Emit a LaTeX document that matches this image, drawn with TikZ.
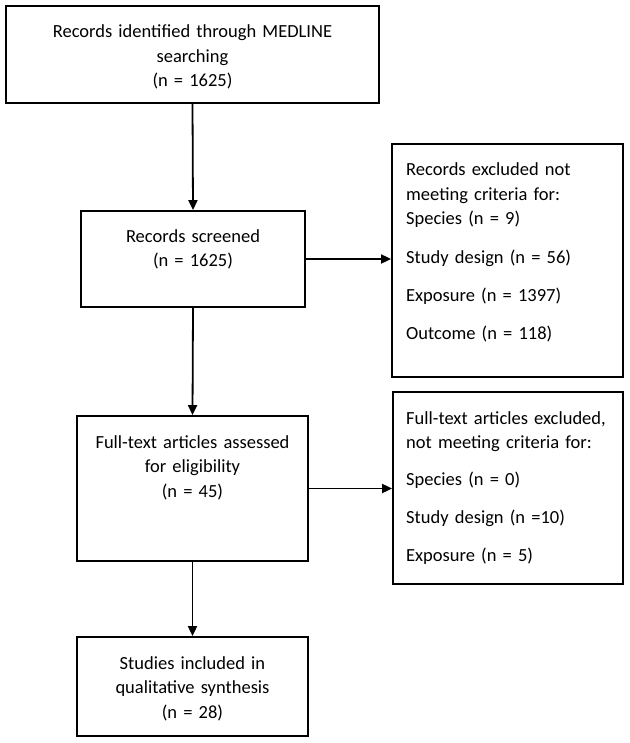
\documentclass[tikz,border=0pt]{standalone}
\usepackage{fontspec}
\setmainfont{Carlito}
\usetikzlibrary{arrows.meta}
\begin{document}
\begin{tikzpicture}[x=1pt,y=1pt,
  box/.style={draw=black,line width=1.8pt,inner sep=0pt,rectangle},
  txt/.style={inner sep=0pt,font=\fontsize{18.5}{24.5}\selectfont},
  ctxt/.style={txt,anchor=base,align=center,text width=#1},
  ltxt/.style={txt,anchor=base west,align=left,text width=#1},
  arr/.style={line width=1.8pt,-{Triangle[length=10pt,width=9pt]}}]
\useasboundingbox (0,0) rectangle (629,-743);
% boxes
\node[box,minimum width=373pt,minimum height=97pt] (b1) at (192.5,-54.5) {};
\node[box,minimum width=224pt,minimum height=96pt] (b2) at (193,-259) {};
\node[box,minimum width=231pt,minimum height=233pt] (b3) at (507.5,-260.5) {};
\node[box,minimum width=231pt,minimum height=145pt] (b4) at (192.5,-488.5) {};
\node[box,minimum width=230pt,minimum height=192pt] (b5) at (508,-488) {};
\node[box,minimum width=231pt,minimum height=99pt] (b6) at (192.5,-686.5) {};
% texts
\node[ctxt=370pt] (t1) at (192.5,-38) {Records identified through MEDLINE\\searching\\(n = 1625)};
\node[ctxt=220pt] (t2) at (193,-242) {Records screened\\(n = 1625)};
\node[ltxt=215pt] (t3) at (406,-176) {Records excluded not\\meeting criteria for:\\Species (n = 9)\\[13.5pt]Study design (n = 56)\\[13.5pt]Exposure (n = 1397)\\[13.5pt]Outcome (n = 118)};
\node[ctxt=228pt] (t4) at (192.5,-448) {Full-text articles assessed\\for eligibility\\(n = 45)};
\node[ltxt=215pt] (t5) at (406,-424) {Full-text articles excluded,\\not meeting criteria for:\\[12.5pt]Species (n = 0)\\[13.5pt]Study design (n =10)\\[13.5pt]Exposure (n = 5)};
\node[ctxt=228pt] (t6) at (192.5,-669) {Studies included in\\qualitative synthesis\\(n = 28)};
% connectors
\draw[arr] (b1.south) -- (b2.north);
\draw[arr] (b2.south) -- (b4.north);
\draw[arr] (b4.south) -- (b6.north);
\draw[arr] (b2.east) -- (b2.east -| b3.west);
\draw[arr] (b4.east) -- (b4.east -| b5.west);
\end{tikzpicture}
\end{document}
